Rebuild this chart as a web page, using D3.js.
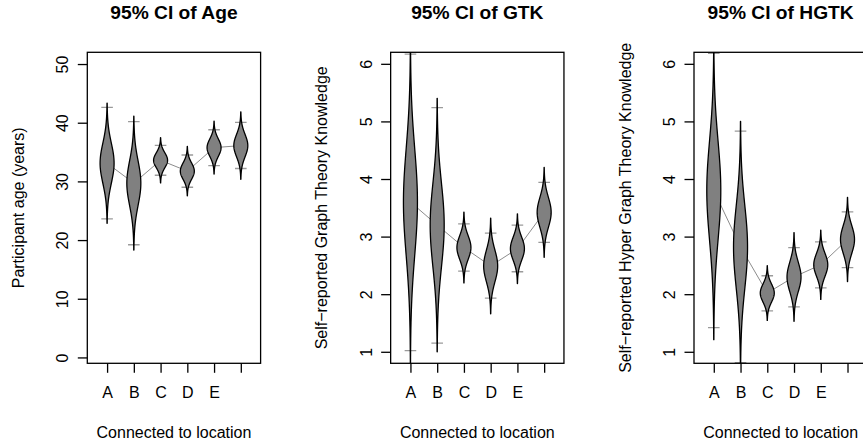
<!DOCTYPE html>
<html>
<head>
<meta charset="utf-8">
<script src="https://cdn.jsdelivr.net/npm/d3@7"></script>
<style>
  body { margin: 0; background: #fff; }
  svg { display: block; font-family: "Liberation Sans", Arial, Helvetica, sans-serif; }
</style>
</head>
<body>
<div id="chart"></div>
<script>
// groups on the x axis (the sixth one has no printed label)
const categories = ["A", "B", "C", "D", "E", "F"];
const tickLabels = ["A", "B", "C", "D", "E", ""];

// Age: mean, 95% CI bounds and the half-span of the drawn distribution (3 SE)
const ageMean   = [33.1, 29.7, 33.6, 31.75, 35.75, 36.1];
const ageLow    = [23.6, 19.2, 31.05, 29.0, 32.7, 32.2];
const ageHigh   = [42.6, 40.2, 36.15, 34.5, 38.8, 40.05];
const ageSpread = [10.25, 11.4, 3.85, 4.2, 4.5, 5.75];

// GTK
const gtkMean   = [3.6, 3.2, 2.81, 2.49, 2.79, 3.42];
const gtkLow    = [1.02, 1.15, 2.40, 1.93, 2.39, 2.90];
const gtkHigh   = [6.17, 5.24, 3.22, 3.06, 3.20, 3.94];
const gtkSpread = [2.8, 2.2, 0.615, 0.83, 0.605, 0.78];

// HGTK
const hgtkMean   = [3.8, 2.82, 2.02, 2.30, 2.51, 2.95];
const hgtkLow    = [1.42, 0.81, 1.71, 1.78, 2.11, 2.46];
const hgtkHigh   = [6.18, 4.83, 2.32, 2.81, 2.91, 3.43];
const hgtkSpread = [2.59, 2.18, 0.475, 0.77, 0.60, 0.73];

const ageTicks = [0, 10, 20, 30, 40, 50];
const scoreTicks = [1, 2, 3, 4, 5, 6];

const panels = [
  { title: "95% CI of Age", ylab: "Participant age (years)", domain: [-1, 52], ticks: ageTicks,
    mean: ageMean, low: ageLow, high: ageHigh, spread: ageSpread },
  { title: "95% CI of GTK", ylab: "Self\u2212reported Graph Theory Knowledge", domain: [0.8, 6.2], ticks: scoreTicks,
    mean: gtkMean, low: gtkLow, high: gtkHigh, spread: gtkSpread },
  { title: "95% CI of HGTK", ylab: "Self\u2212reported Hyper Graph Theory Knowledge", domain: [0.8, 6.2], ticks: scoreTicks,
    mean: hgtkMean, low: hgtkLow, high: hgtkHigh, spread: hgtkSpread }
];

const width = 863, height = 447;
const boxLeft0 = 87.3, panelStep = 303.35, boxWidth = 173.3;
const boxTop = 52.3, boxBottom = 363.3;
const halfWidth = 7;    // widest point of each violin, px
const ciHalf = 5.8;     // half length of the CI tick marks
const lw = 1.3;

const svg = d3.select("#chart").append("svg")
  .attr("width", width)
  .attr("height", height);

panels.forEach((p, i) => {
  const left = boxLeft0 + i * panelStep;
  const cx = left + boxWidth / 2;

  const x = d3.scaleLinear().domain([0.26, 6.74]).range([left, left + boxWidth]);
  const y = d3.scaleLinear().domain(p.domain).range([boxBottom, boxTop]);

  const g = svg.append("g");

  // clip marks to the plot region
  const clipId = "clip" + i;
  g.append("clipPath").attr("id", clipId)
    .append("rect")
    .attr("x", left).attr("y", boxTop)
    .attr("width", boxWidth).attr("height", boxBottom - boxTop);

  const plot = g.append("g").attr("clip-path", `url(#${clipId})`);

  const data = categories.map((c, k) => ({
    pos: k + 1, mean: p.mean[k], low: p.low[k], high: p.high[k], spread: p.spread[k]
  }));

  // line joining the means
  plot.append("path")
    .datum(data)
    .attr("fill", "none")
    .attr("stroke", "#8c8c8c")
    .attr("stroke-width", 1)
    .attr("d", d3.line().x(d => x(d.pos)).y(d => y(d.mean)));

  // CI tick marks
  data.forEach(d => {
    [d.low, d.high].forEach(v => {
      plot.append("line")
        .attr("x1", x(d.pos) - ciHalf).attr("x2", x(d.pos) + ciHalf)
        .attr("y1", y(v)).attr("y2", y(v))
        .attr("stroke", "#9a9a9a")
        .attr("stroke-width", lw);
    });
  });

  // violins: normal-shaped sampling distribution over +-3 SE
  const zs = d3.range(-3, 3.0001, 0.05);
  data.forEach(d => {
    const se = d.spread / 3;
    const pts = zs.map(z => ({ v: d.mean + z * se, w: halfWidth * Math.exp(-z * z / 2) }));
    const area = d3.area()
      .y(q => y(q.v))
      .x0(q => x(d.pos) - q.w)
      .x1(q => x(d.pos) + q.w);
    plot.append("path")
      .attr("d", area(pts))
      .attr("fill", "#808080")
      .attr("stroke", "#000")
      .attr("stroke-width", lw)
      .attr("stroke-linejoin", "round");
  });

  // box
  g.append("rect")
    .attr("x", left).attr("y", boxTop)
    .attr("width", boxWidth).attr("height", boxBottom - boxTop)
    .attr("fill", "none").attr("stroke", "#000").attr("stroke-width", lw);

  // x axis
  const xAxis = d3.axisBottom(x)
    .tickValues(d3.range(1, 7))
    .tickSize(9.5)
    .tickFormat((d, k) => tickLabels[k]);
  const xg = g.append("g")
    .attr("transform", `translate(0,${boxBottom})`)
    .call(xAxis);
  xg.select(".domain").remove();
  xg.selectAll(".tick line").attr("stroke-width", lw);
  xg.selectAll(".tick text")
    .attr("y", 35).attr("dy", 0)
    .attr("font-size", 16).attr("fill", "#000")
    .attr("font-family", "Liberation Sans, Arial, sans-serif");

  // y axis with labels running along the axis
  const yAxis = d3.axisLeft(y).tickValues(p.ticks).tickSize(9.5).tickFormat(d3.format("d"));
  const yg = g.append("g")
    .attr("transform", `translate(${left},0)`)
    .call(yAxis);
  yg.select(".domain").remove();
  yg.selectAll(".tick line").attr("stroke-width", lw);
  yg.selectAll(".tick text")
    .attr("x", 0).attr("dy", 0)
    .attr("transform", "translate(-19,0) rotate(-90)")
    .attr("text-anchor", "middle")
    .attr("font-size", 16).attr("fill", "#000")
    .attr("font-family", "Liberation Sans, Arial, sans-serif");

  // titles
  g.append("text")
    .attr("x", cx).attr("y", 19.3)
    .attr("text-anchor", "middle")
    .attr("font-size", 19.2).attr("font-weight", "bold")
    .text(p.title);

  g.append("text")
    .attr("x", cx).attr("y", 438.3)
    .attr("text-anchor", "middle")
    .attr("font-size", 16)
    .text("Connected to location");

  g.append("text")
    .attr("transform", `translate(${left - 63.5},${(boxTop + boxBottom) / 2}) rotate(-90)`)
    .attr("text-anchor", "middle")
    .attr("font-size", 16)
    .text(p.ylab);
});
</script>
</body>
</html>
